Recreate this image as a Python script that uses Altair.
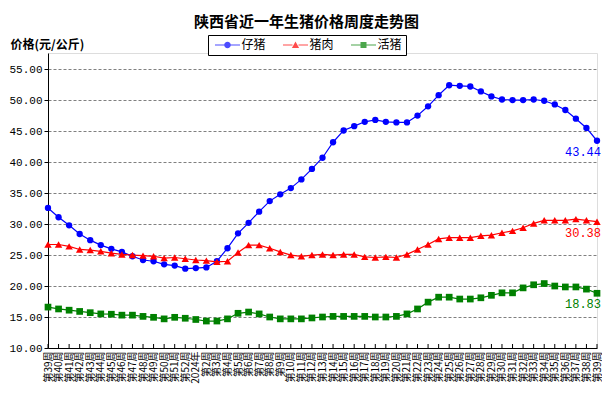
import altair as alt
import pandas as pd

weeks = (["第39周", "第40周", "第41周", "第42周", "第43周", "第44周", "第45周",
          "第46周", "第47周", "第48周", "第49周", "第50周", "第51周", "第52周",
          "2024年"] + ["第%d周" % i for i in range(2, 40)])

series_names = ["仔猪", "猪肉", "活猪"]
series_colors = ["#0000FF", "#FF0000", "#008000"]

piglet = [32.6, 31.1, 29.8, 28.4, 27.4, 26.6, 26.0, 25.5, 24.8, 24.2, 24.0, 23.5, 23.3, 22.8,
          22.9, 23.0, 24.0, 26.1, 28.5, 30.2, 32.0, 33.7, 34.8, 35.8, 37.2, 38.9, 40.7, 43.2,
          45.1, 45.8, 46.5, 46.8, 46.5, 46.4, 46.4, 47.5, 49.0, 50.8, 52.4, 52.3, 52.2, 51.4,
          50.6, 50.1, 50.0, 50.0, 50.1, 49.9, 49.3, 48.4, 47.0, 45.5, 43.44]
pork = [26.7, 26.7, 26.4, 25.9, 25.8, 25.6, 25.3, 25.1, 25.0, 24.9, 24.8, 24.5, 24.6, 24.4,
        24.2, 24.1, 23.9, 24.0, 25.4, 26.6, 26.6, 26.1, 25.5, 25.0, 24.8, 25.0, 25.1, 25.0,
        25.1, 25.1, 24.7, 24.6, 24.7, 24.6, 25.1, 25.9, 26.7, 27.6, 27.8, 27.8, 27.8, 28.1,
        28.2, 28.6, 28.9, 29.4, 30.1, 30.6, 30.6, 30.6, 30.8, 30.6, 30.38]
hog = [16.6, 16.3, 16.1, 15.9, 15.7, 15.5, 15.45, 15.3, 15.3, 15.1, 14.95, 14.7, 14.95, 14.8,
       14.6, 14.35, 14.35, 14.7, 15.6, 15.8, 15.5, 15.0, 14.7, 14.7, 14.7, 14.85, 15.0, 15.1,
       15.1, 15.1, 15.1, 15.0, 15.0, 15.1, 15.5, 16.3, 17.4, 18.2, 18.2, 17.9, 17.9, 18.1,
       18.5, 18.9, 18.9, 19.7, 20.2, 20.4, 20.0, 19.85, 19.85, 19.5, 18.83]

y_ticks = [10, 15, 20, 25, 30, 35, 40, 45, 50, 55]

rows = []
for name, vals in zip(series_names, [piglet, pork, hog]):
    for i, v in enumerate(vals):
        rows.append({"idx": i, "series": name, "value": v})
df = pd.DataFrame(rows)
n = len(weeks)

CJK = "Noto Sans CJK SC"
NUM = "Liberation Mono"

label_arr = "[" + ",".join("'%s'" % w for w in weeks) + "]"

X = alt.X("idx:Q",
          scale=alt.Scale(domain=[0, n - 1], nice=False, zero=False),
          axis=alt.Axis(values=list(range(n)), labelExpr=label_arr + "[datum.value]",
                        labelAngle=270, ticks=False, grid=False, domainColor="black",
                        labelFont=CJK, labelFontSize=10, labelColor="black",
                        labelOverlap=False, labelPadding=3, labelFlush=False,
                        labelBound=False, title=None))
Y = alt.Y("value:Q",
          scale=alt.Scale(domain=[10, 57.6], nice=False, zero=False),
          axis=alt.Axis(values=y_ticks, format=".2f", grid=True, gridDash=[3, 2],
                        gridColor="#808080", tickSize=4, tickColor="black",
                        domainColor="black", labelColor="black", labelFont=NUM,
                        labelFontSize=11, labelPadding=2,
                        title="价格(元/公斤)", titleAngle=0, titleX=-38, titleY=-9,
                        titleAlign="left", titleBaseline="middle", titleFont=CJK,
                        titleFontSize=12, titleFontWeight="bold", titleColor="black"))

base = alt.Chart(df).encode(x=X, y=Y)

shapes = ["circle", "triangle-up", "square"]
sizes = [40, 55, 45]
layers = []
for name, col, shp, sz in zip(series_names, series_colors, shapes, sizes):
    sub = base.transform_filter(alt.datum.series == name)
    layers.append(sub.mark_line(strokeWidth=1.2, color=col))
    layers.append(sub.mark_point(filled=True, shape=shp, size=sz, opacity=1, color=col))
    layers.append(sub.transform_filter(alt.datum.idx == n - 1).mark_text(
        align="right", baseline="middle", dx=4, dy=11, font=NUM, fontSize=12, color=col
    ).encode(text=alt.Text("value:Q", format=".2f")))

ticks = base.transform_filter(alt.datum.series == series_names[0]).mark_rule(
    color="black", strokeWidth=1
).encode(y=alt.value(295), y2=alt.value(291))

line_l = "M-4.17,-0.17H-1V0.17H-4.17Z M1,-0.17H4.17V0.17H1Z "
legend_paths = [
    line_l + "M-1.1,0A1.1,1.1 0 1,1 1.1,0A1.1,1.1 0 1,1 -1.1,0Z",
    line_l + "M0,-1.2L1.2,1H-1.2Z",
    line_l + "M-1,-1H1V1H-1Z",
]
leg = alt.Legend(title=None, orient="none", legendX=160, legendY=-18,
                 direction="horizontal", strokeColor="black", fillColor="white",
                 padding=4, cornerRadius=0, symbolSize=36, symbolStrokeWidth=0,
                 symbolOffset=9.5, labelOffset=8, columnPadding=14,
                 labelFont=CJK, labelFontSize=12, labelColor="black")
legend_layer = base.transform_filter("false").mark_point(filled=True).encode(
    color=alt.Color("series:N", scale=alt.Scale(domain=series_names, range=series_colors),
                    legend=leg),
    shape=alt.Shape("series:N", scale=alt.Scale(domain=series_names, range=legend_paths),
                    legend=leg),
)

chart = alt.layer(*layers, ticks, legend_layer).properties(
    width=549, height=295,
    title=alt.TitleParams(text="陕西省近一年生猪价格周度走势图", anchor="middle",
                          frame="group", font=CJK, fontSize=15, fontWeight="bold",
                          color="black", dx=-16, dy=-1),
    autosize=alt.AutoSizeParams(type="none"),
    padding={"left": 40, "top": 45, "right": 5, "bottom": 45},
).configure_view(stroke=None).configure(background="white")

chart.save("out.html", embed_options={"renderer": "svg", "actions": False})
